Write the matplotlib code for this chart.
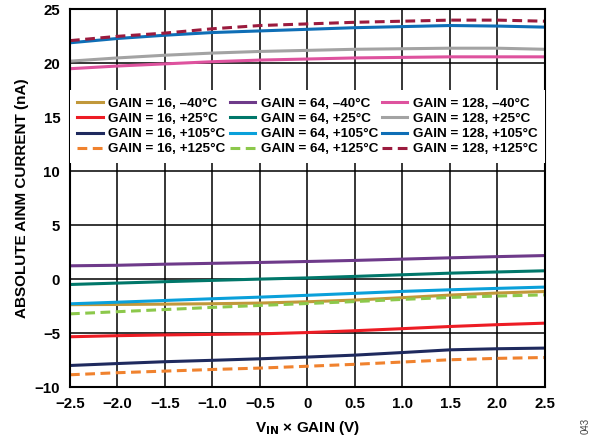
import matplotlib
matplotlib.use("Agg")
import matplotlib.pyplot as plt
import numpy as np

plt.rcParams['font.family'] = ['Liberation Sans', 'DejaVu Sans']

vin_gain = [-2.5, -2.0, -1.5, -1.0, -0.5, 0.0, 0.5, 1.0, 1.5, 2.0, 2.5]

g16_m40 = [-2.35, -2.33, -2.30, -2.26, -2.20, -2.08, -1.92, -1.70, -1.46, -1.27, -1.13]
g16_p25 = [-5.32, -5.22, -5.15, -5.10, -5.05, -4.93, -4.76, -4.57, -4.37, -4.20, -4.06]
g16_p105 = [-7.98, -7.80, -7.63, -7.50, -7.36, -7.20, -7.02, -6.78, -6.53, -6.43, -6.37]
g16_p125 = [-8.84, -8.65, -8.50, -8.35, -8.22, -8.05, -7.87, -7.66, -7.45, -7.32, -7.24]

g64_m40 = [1.25, 1.30, 1.40, 1.48, 1.56, 1.65, 1.75, 1.87, 1.99, 2.10, 2.20]
g64_p25 = [-0.48, -0.35, -0.22, -0.10, 0.02, 0.13, 0.27, 0.42, 0.57, 0.68, 0.79]
g64_p105 = [-2.27, -2.12, -1.96, -1.80, -1.65, -1.48, -1.30, -1.12, -0.97, -0.84, -0.72]
g64_p125 = [-3.20, -3.00, -2.80, -2.60, -2.42, -2.24, -2.06, -1.86, -1.68, -1.55, -1.44]

g128_m40 = [19.5, 19.75, 19.95, 20.15, 20.3, 20.4, 20.5, 20.55, 20.6, 20.6, 20.6]
g128_p25 = [20.2, 20.5, 20.75, 20.95, 21.1, 21.2, 21.3, 21.35, 21.4, 21.4, 21.3]
g128_p105 = [21.9, 22.3, 22.6, 22.85, 23.0, 23.15, 23.3, 23.4, 23.5, 23.45, 23.35]
g128_p125 = [22.1, 22.5, 22.8, 23.2, 23.5, 23.65, 23.8, 23.9, 24.0, 24.0, 23.9]

labels = [
    "GAIN = 16, \u201340\u00b0C", "GAIN = 16, +25\u00b0C", "GAIN = 16, +105\u00b0C", "GAIN = 16, +125\u00b0C",
    "GAIN = 64, \u201340\u00b0C", "GAIN = 64, +25\u00b0C", "GAIN = 64, +105\u00b0C", "GAIN = 64, +125\u00b0C",
    "GAIN = 128, \u201340\u00b0C", "GAIN = 128, +25\u00b0C", "GAIN = 128, +105\u00b0C", "GAIN = 128, +125\u00b0C",
]
series = [g16_m40, g16_p25, g16_p105, g16_p125,
          g64_m40, g64_p25, g64_p105, g64_p125,
          g128_m40, g128_p25, g128_p105, g128_p125]
colors = ["#C1983A", "#ED1C24", "#1F2A5E", "#F0822E",
          "#6E3A8A", "#00776A", "#0AA0DA", "#8CC84B",
          "#DE529E", "#A3A3A3", "#0E6EB6", "#9B1B3E"]
styles = ["-", "-", "-", "--"] * 3

x_ticks = [-2.5, -2.0, -1.5, -1.0, -0.5, 0, 0.5, 1.0, 1.5, 2.0, 2.5]
x_tick_labels = ["\u22122.5", "\u22122.0", "\u22121.5", "\u22121.0", "\u22120.5", "0",
                 "0.5", "1.0", "1.5", "2.0", "2.5"]
y_ticks = [-10, -5, 0, 5, 10, 15, 20, 25]
y_tick_labels = ["\u221210", "\u22125", "0", "5", "10", "15", "20", "25"]

fig = plt.figure(figsize=(5.96, 4.44), dpi=100)
ax = fig.add_axes([0.1174, 0.1277, 0.7970, 0.8513])

for ys, c, ls, lab in zip(series, colors, styles, labels):
    if ls == "--":
        ax.plot(vin_gain, ys, color=c, lw=2.2, ls=(0, (3.2, 1.8)), label=lab)
    else:
        ax.plot(vin_gain, ys, color=c, lw=2.2, ls=ls, label=lab)

ax.set_xlim(-2.5, 2.5)
ax.set_ylim(-10, 25)
ax.set_xticks(x_ticks)
ax.set_xticklabels(x_tick_labels)
ax.set_yticks(y_ticks)
ax.set_yticklabels(y_tick_labels)
ax.tick_params(length=0, labelsize=10.8)
ax.tick_params(axis="y", pad=7)
ax.tick_params(axis="x", pad=7)
for t in ax.get_xticklabels() + ax.get_yticklabels():
    t.set_fontweight("bold")
ax.grid(True, color="black", lw=1.1)
ax.set_axisbelow(True)
for s in ax.spines.values():
    s.set_linewidth(1.5)

ax.set_xlabel("V$_{\\mathbf{IN}}$ \u00d7 GAIN (V)", fontsize=11, fontweight="bold", labelpad=6)
ax.set_ylabel("ABSOLUTE AINM CURRENT (nA)", fontsize=11, fontweight="bold", labelpad=4)

leg = ax.legend(ncol=3, loc="upper left", bbox_to_anchor=(0.0, 0.586, 1.0, 0.2),
                mode="expand", frameon=True, fancybox=False, framealpha=1,
                edgecolor="white", fontsize=9.7, handlelength=1.9, handletextpad=0.4,
                labelspacing=0.2, columnspacing=0.8, borderpad=0.55, borderaxespad=0)
leg.get_frame().set_linewidth(0)
for t in leg.get_texts():
    t.set_fontweight("bold")

fig.text(0.982, 0.04, "043", rotation=90, fontsize=7, color="#444444", ha="center", va="center")

fig.savefig("out.png", dpi=100)
